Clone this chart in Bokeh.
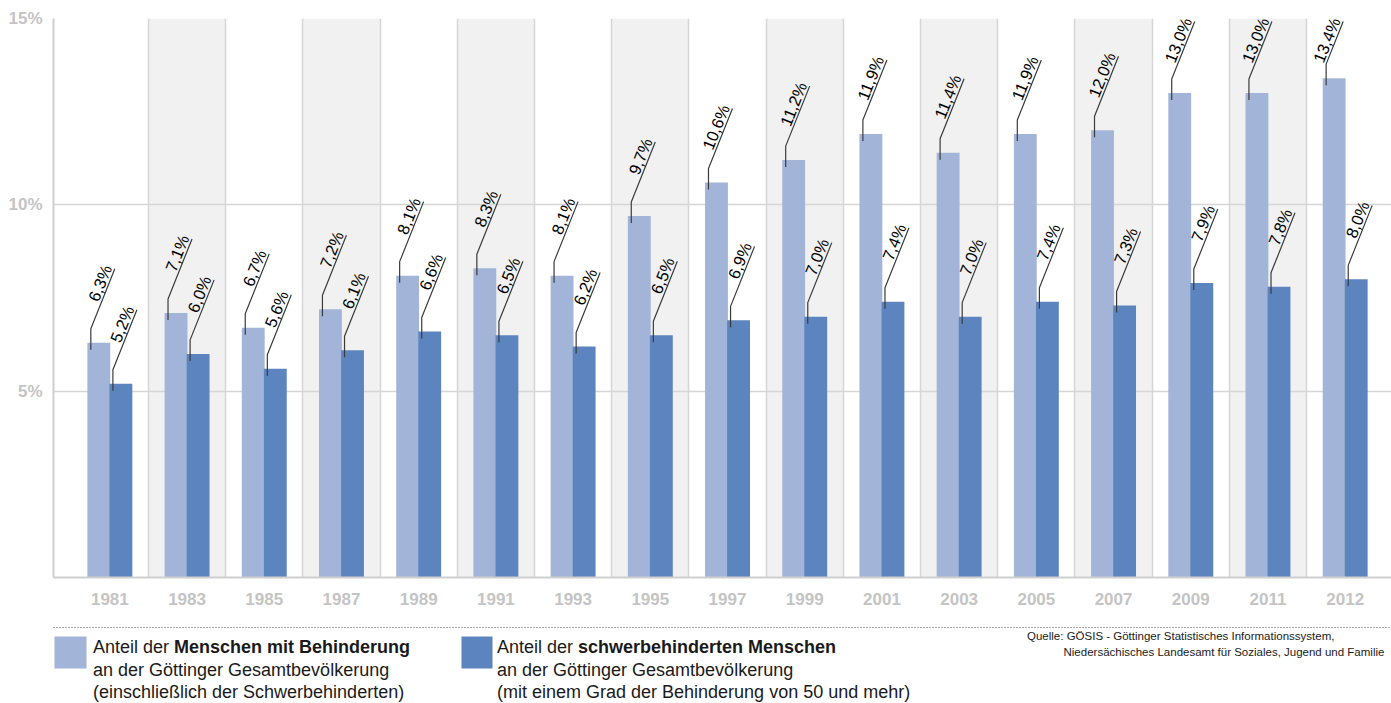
import math
from bokeh.plotting import figure
from bokeh.models import Range1d, FixedTicker, ColumnDataSource, LabelSet
from bokeh.layouts import column
from bokeh.core.properties import value
from bokeh.embed import file_html
from bokeh.resources import INLINE

# ---------------- data ----------------
years = ["1981", "1983", "1985", "1987", "1989", "1991", "1993", "1995", "1997",
         "1999", "2001", "2003", "2005", "2007", "2009", "2011", "2012"]
menschen_mit_behinderung = [6.3, 7.1, 6.7, 7.2, 8.1, 8.3, 8.1, 9.7, 10.6,
                            11.2, 11.9, 11.4, 11.9, 12.0, 13.0, 13.0, 13.4]
schwerbehinderte = [5.2, 6.0, 5.6, 6.1, 6.6, 6.5, 6.2, 6.5, 6.9,
                    7.0, 7.4, 7.0, 7.4, 7.3, 7.9, 7.8, 8.0]
y_ticks = [5, 10, 15]
y_tick_labels = ["5%", "10%", "15%"]

legend_1 = ["Anteil der ", "Menschen mit Behinderung",
            "an der Göttinger Gesamtbevölkerung",
            "(einschließlich der Schwerbehinderten)"]
legend_2 = ["Anteil der ", "schwerbehinderten Menschen",
            "an der Göttinger Gesamtbevölkerung",
            "(mit einem Grad der Behinderung von 50 und mehr)"]
source_lines = ["Quelle: GÖSIS - Göttinger Statistisches Informationssystem,",
                "Niedersächisches Landesamt für Soziales, Jugend und Familie"]

# ---------------- layout constants ----------------
W = 1391
H_MAIN = 615
H_LEG = 703 - H_MAIN
LEFT = 53
TOP = 18
BOTTOM = 38
X0, X1 = -0.73, 16.6
Y0, Y1 = 0, 15
XU = (W - LEFT) / (X1 - X0)        # px per x unit
YU = (H_MAIN - TOP - BOTTOM) / (Y1 - Y0)  # px per y unit

LIGHT = "#a2b4d7"
DARK = "#5c84be"
SHADE = "#f1f1f1"
GRID = "#d6d6d6"
AXIS = "#cfcfcf"
TICKTXT = "#c4c4c4"
FONT = "Liberation Sans"

OFF = 0.143
BW = 0.296

idx = list(range(len(years)))

p = figure(width=W, height=H_MAIN, x_range=Range1d(X0, X1), y_range=Range1d(Y0, Y1),
           output_backend="svg", toolbar_location=None,
           min_border_left=LEFT, min_border_right=0, min_border_top=TOP,
           min_border_bottom=BOTTOM)
p.frame_align = False
p.outline_line_color = None
p.background_fill_color = "white"
p.border_fill_color = "white"

# alternating column shading
shade_x = [i for i in idx if i % 2 == 1]
p.vbar(x=shade_x, width=1.0, bottom=Y0, top=Y1, fill_color=SHADE, line_color=None,
       level="image")

# bars
x_light = [i - OFF for i in idx]
x_dark = [i + OFF for i in idx]
p.vbar(x=x_light, width=BW, bottom=0, top=menschen_mit_behinderung,
       fill_color=LIGHT, line_color=None)
p.vbar(x=x_dark, width=BW, bottom=0, top=schwerbehinderte,
       fill_color=DARK, line_color=None)

# leader lines + labels
DX_PX, DY_PX = 24.0, 60.0
ANG = math.atan2(DY_PX, DX_PX)
cap = Y1 - 3.0 / YU
xs, ys, lx_end, ly_end, texts = [], [], [], [], []
for xcs, vals in ((x_light, menschen_mit_behinderung), (x_dark, schwerbehinderte)):
    for xc, v in zip(xcs, vals):
        lx = xc - 8.0 / XU
        yb = v - 7.0 / YU
        yv = v + 14.0 / YU
        yt = min(yv + DY_PX / YU, cap)
        dy_px = (yt - yv) * YU
        dx = dy_px * DX_PX / DY_PX / XU
        xs.append([lx, lx, lx + dx])
        ys.append([yb, yv, yt])
        lx_end.append(lx + dx)
        ly_end.append(yt)
        texts.append(f"{v:.1f}".replace(".", ",") + "%")

p.multi_line(xs=xs, ys=ys, line_color="#3a3a3a", line_width=1.2)
PERP = 2.5
lab_src = ColumnDataSource(dict(x=lx_end, y=ly_end, text=texts))
p.add_layout(LabelSet(x="x", y="y", text="text", source=lab_src, angle=ANG,
                      text_align="right", text_baseline="alphabetic",
                      text_font=value(FONT), text_font_size="16.5px",
                      text_color="#000000",
                      x_offset=-PERP * math.sin(ANG), y_offset=PERP * math.cos(ANG)))

# axes
p.xaxis.ticker = FixedTicker(ticks=idx)
p.xaxis.major_label_overrides = {i: y for i, y in zip(idx, years)}
p.yaxis.ticker = FixedTicker(ticks=y_ticks)
p.yaxis.major_label_overrides = {t: l for t, l in zip(y_ticks, y_tick_labels)}
for ax in (p.xaxis[0], p.yaxis[0]):
    ax.axis_line_color = AXIS
    ax.axis_line_width = 2
    ax.major_tick_line_color = None
    ax.minor_tick_line_color = None
    ax.major_label_text_color = TICKTXT
    ax.major_label_text_font = FONT
    ax.major_label_text_font_style = "bold"
    ax.major_label_text_font_size = "17px"
p.xaxis.major_label_standoff = 9
p.yaxis.major_label_standoff = 5

p.xgrid.ticker = FixedTicker(ticks=[i + 0.5 for i in idx[:-1]])
p.xgrid.grid_line_color = GRID
p.xgrid.grid_line_width = 1.5
p.ygrid.ticker = FixedTicker(ticks=y_ticks)
p.ygrid.grid_line_color = GRID
p.ygrid.grid_line_width = 1.5

# ---------------- legend / footer ----------------
leg = figure(width=W, height=H_LEG, x_range=Range1d(0, W), y_range=Range1d(H_LEG, 0),
             output_backend="svg", toolbar_location=None, min_border=0,
             x_axis_type=None, y_axis_type=None)
leg.frame_align = False
leg.outline_line_color = None
leg.background_fill_color = "white"
leg.border_fill_color = "white"

leg.line(x=[LEFT, W], y=[12, 12], line_dash="1 2", line_color="#555555", line_width=1)
leg.quad(left=[54, 461], right=[86, 492], top=[21, 21], bottom=[53, 53],
         fill_color=[LIGHT, DARK], line_color=None)

base = [31.7, 54.3, 76.7]
for x0, lines in ((92.5, legend_1), (496.5, legend_2)):
    leg.text(x=[x0], y=[base[0]], text=[lines[0]], text_font=value(FONT),
             text_font_size="18px", text_baseline="alphabetic", text_color="#1a1a1a")
    leg.text(x=[x0 + 81], y=[base[0]], text=[lines[1]], text_font=value(FONT),
             text_font_size="18px", text_font_style="bold", text_baseline="alphabetic",
             text_color="#1a1a1a")
    leg.text(x=[x0, x0], y=[base[1], base[2]], text=[lines[2], lines[3]],
             text_font=value(FONT), text_font_size="18px", text_baseline="alphabetic",
             text_color="#1a1a1a")

leg.text(x=[1026.5, 1063], y=[20.0, 36.0], text=source_lines, text_font=value(FONT),
         text_font_size="11.5px", text_baseline="alphabetic", text_color="#1a1a1a")

layout = column(p, leg, spacing=0)
open("out.html", "w").write(file_html(layout, INLINE))
